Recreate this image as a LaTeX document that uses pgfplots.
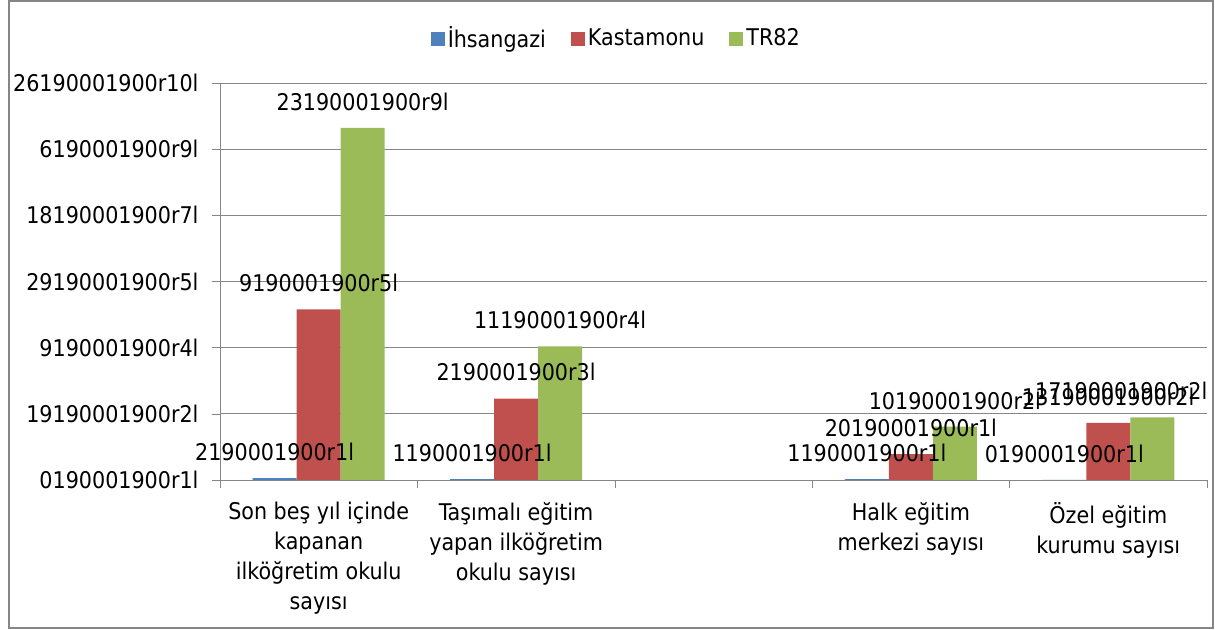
\documentclass[border=0pt]{standalone}
\usepackage{fontspec}
\setmainfont{DejaVu Sans Condensed}
\usepackage{pgfplots}
\pgfplotsset{compat=1.18}
\usepackage{pgfplotstable}

\definecolor{ihs}{HTML}{4F81BD}
\definecolor{kas}{HTML}{C0504D}
\definecolor{trg}{HTML}{9BBB59}
\definecolor{gridc}{HTML}{868686}
\newcommand\chartfont{\fontsize{11.5}{15}\selectfont}

% x: category index, y: value in grid units, dx: label shift (pt), lab: data label
\pgfplotstableread{
x y dx lab
0 0.03 0 2190001900r1l
1 0.012 0 1190001900r1l
3 0.015 0 1190001900r1l
4 0 0 0190001900r1l
}\ihsangazi

\pgfplotstableread{
x y dx lab
0 2.58 0 9190001900r5l
1 1.23 0 2190001900r3l
3 0.39 0 20190001900r1l
4 0.865 0 13190001900r2l
}\kastamonu

\pgfplotstableread{
x y dx lab
0 5.32 0 23190001900r9l
1 2.02 0 11190001900r4l
3 0.805 0 10190001900r2l
4 0.947 -15.5 17190001900r2l
}\trbolge

\begin{document}
\begin{tikzpicture}
\begin{axis}[
    at={(0,0)}, anchor=south west,
    scale only axis,
    width=493.5pt, height=198.5pt,
    ybar=0pt, bar width=22pt,
    xmin=-0.5, xmax=4.5, ymin=0, ymax=6,
    axis lines*=left,
    axis line style={draw=gridc},
    ymajorgrids, grid style={draw=gridc},
    tick align=outside, major tick length=4pt,
    tick style={draw=gridc},
    ytick={0,...,6},
    yticklabels={0190001900r1l,19190001900r2l,9190001900r4l,29190001900r5l,18190001900r7l,6190001900r9l,26190001900r10l},
    yticklabel style={font=\chartfont, xshift=-3.2pt},
    xtick={-0.5,0.5,...,4.5},
    xticklabels={,,,,,},
    extra x ticks={0,1,2,3,4},
    extra x tick labels={{Son beş yıl içinde\\kapanan\\ilköğretim okulu\\sayısı},{Taşımalı eğitim\\yapan ilköğretim\\okulu sayısı},{},{Halk eğitim\\merkezi sayısı},{Özel eğitim\\kurumu sayısı}},
    extra x tick style={major tick length=0pt, xticklabel style={font=\chartfont, align=center, anchor=north, yshift=-7.5pt}},
    point meta=explicit symbolic,
    visualization depends on={\thisrow{dx} \as \dx},
    nodes near coords,
    every node near coord/.append style={font=\chartfont, inner sep=0pt, yshift=8.5pt, xshift=\dx pt},
    legend image code/.code={\draw[#1, draw=none] (0pt,-3.5pt) rectangle (7pt,3.5pt);},
    legend style={at={(0.402,1.111)}, anchor=center, draw=none, fill=none,
        font=\chartfont, legend columns=3,
        nodes={inner xsep=1.5pt},
        /tikz/every even column/.append style={column sep=11pt}},
]
\addplot[fill=ihs, draw=none] table[x=x, y=y, meta=lab] {\ihsangazi};
\addplot[fill=kas, draw=none] table[x=x, y=y, meta=lab] {\kastamonu};
\addplot[fill=trg, draw=none] table[x=x, y=y, meta=lab] {\trbolge};
\legend{İhsangazi, Kastamonu, TR82}
\end{axis}
\path (-110pt,-75pt) rectangle (497.5pt,240pt);
\draw[gridc, line width=1pt] (-105.5pt,-74pt) rectangle (496.5pt,239.5pt);
\end{tikzpicture}
\end{document}
